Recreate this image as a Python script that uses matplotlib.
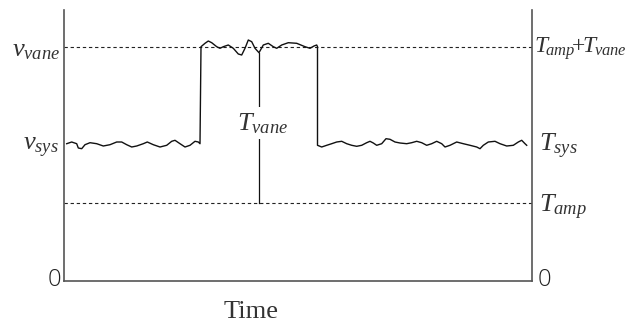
import numpy as np
import matplotlib
matplotlib.use("Agg")
import matplotlib.pyplot as plt

plt.rcParams["mathtext.fontset"] = "custom"
plt.rcParams["mathtext.rm"] = "Liberation Serif"
plt.rcParams["mathtext.it"] = "Liberation Serif:italic"

# levels (arbitrary units above zero)
t_amp = 78
t_amp_vane = 234

# signal trace: time, level
sig_t = [66.7, 71.7, 76.7, 78.3, 81.7, 85, 90, 96.7, 103.3, 110, 116.7, 121.7,
         126.7, 131.7, 136.7, 143.3, 147.3, 153.3, 160, 166.7, 171.7, 175, 180,
         185, 190, 195, 198.3, 200,
         201, 205, 208.3, 211.7, 216.7, 220, 223.3, 228.3, 233.3, 238.3, 241.7,
         245, 248.3, 251.7, 255, 259, 263.3, 268.3, 273.3, 276.7, 281.7, 288.3,
         296.7, 305, 310, 314, 316.7, 317.5,
         317.5, 321.7, 326.7, 331.7, 336.7, 341.7, 346.7, 351.7, 356.7, 361.7,
         366.7, 370, 373.3, 376.7, 381.7, 386, 390, 395, 400, 406.7, 411.7,
         416.7, 421.7, 426.7, 431.7, 436.7, 441.7, 445, 450, 456.7, 463.3, 470,
         476.7, 480, 483.3, 488.3, 495, 500, 506.7, 513.3, 518.3, 521.7, 525,
         526.7]
sig_v = [137.3, 139, 137.3, 133, 132.3, 136.3, 138.3, 137.3, 135, 136.3, 139, 139,
         136.3, 134, 135, 137.3, 139, 136.3, 134, 135.7, 139.7, 140.7, 137.3,
         134, 135.7, 139.7, 139, 137.3,
         234.3, 237.7, 240, 238.3, 234.3, 232.7, 234.3, 236, 232.7, 227, 226,
         232.7, 241, 239.3, 232.7, 228.3, 236, 237.7, 234.3, 232.7, 236, 238.3,
         237.7, 234.3, 232.7, 235, 236, 234.3,
         135.7, 134, 135.7, 137.3, 139, 139.7, 137.3, 135.7, 134.7, 135.7,
         138.3, 139.7, 138, 135.7, 137.3, 142.3, 141.7, 139, 138, 137.3, 138.3,
         139.7, 138.3, 135.7, 137.3, 139.7, 137.3, 134, 135.7, 139, 137.3, 135.7,
         134, 132.3, 135.7, 139, 139.7, 137.3, 135, 135.7, 139, 140.7, 137.3,
         135.7]

vane_x = 259
vane_top = 228.3

fig = plt.figure(figsize=(6.35, 3.26), dpi=100)
ax = fig.add_axes([64 / 635, 45 / 326, 468 / 635, 271 / 326])
ax.set_xlim(64, 532)
ax.set_ylim(0, 271)

for s in ["left", "right", "bottom"]:
    ax.spines[s].set_color("#555555")
    ax.spines[s].set_linewidth(1.2)
ax.spines["top"].set_visible(False)
ax.set_xticks([])
ax.set_yticks([])

ax.axhline(t_amp_vane, color="#222222", lw=0.8, ls=(0, (3, 2.5)))
ax.axhline(t_amp, color="#222222", lw=0.8, ls=(0, (3, 2.5)))

ax.plot(sig_t, sig_v, color="#111111", lw=1.0)
ax.plot([vane_x, vane_x], [t_amp, vane_top], color="#111111", lw=0.9)

tc = "#333333"
ax.text(vane_x + 4, 158, r"$T_{vane}$", fontsize=19, color=tc, ha="center",
        va="center", bbox=dict(fc="white", ec="none", pad=2))

ax.text(60, 232, r"$v_{vane}$", fontsize=19, color=tc, ha="right", va="center")
ax.text(59, 134, r"$v_{sys}$", fontsize=19, color=tc, ha="right", va="center")

ax.text(534, 232, r"$T_{\!amp}\!\!+\!\!T_{\!vane}$", fontsize=17, color=tc,
        ha="left", va="center")
ax.text(539, 135, r"$T_{sys}$", fontsize=19, color=tc, ha="left", va="center")
ax.text(539, 74, r"$T_{amp}$", fontsize=19, color=tc, ha="left", va="center")

ax.text(54.5, 1, "0", fontsize=17, color="#222222", ha="center", va="center",
        family="Open Sans", fontweight="light")
ax.text(544, 1, "0", fontsize=17, color="#222222", ha="center", va="center",
        family="Open Sans", fontweight="light")

ax.text(251, -31, "Time", fontsize=19, color=tc, ha="center", va="center",
        family="Liberation Serif")

fig.savefig("out.png", dpi=100)
